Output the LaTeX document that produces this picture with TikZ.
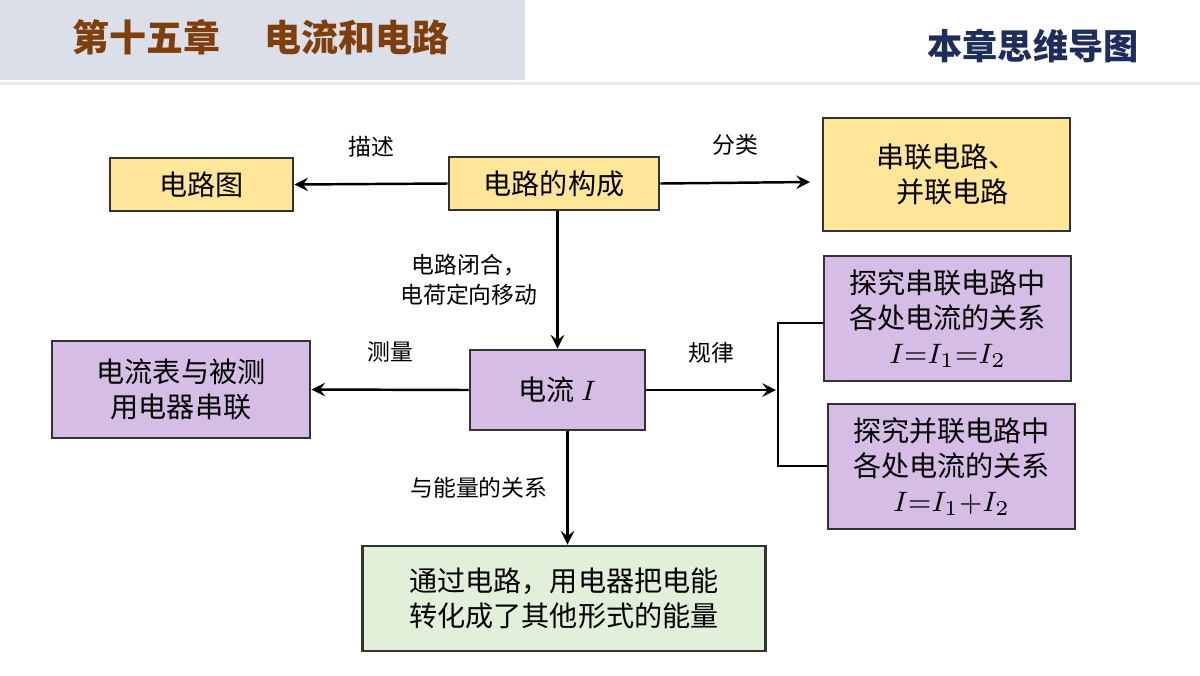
\documentclass[tikz,border=0pt]{standalone}
\usepackage{fontspec}
\newfontfamily\cjk{Noto Sans CJK SC}
\usetikzlibrary{positioning}
\definecolor{hdrbg}{HTML}{DADFEA}
\definecolor{hdrbrown}{HTML}{7F3F0C}
\definecolor{hdrblue}{HTML}{1F2D5A}
\definecolor{yel}{HTML}{FFE699}
\definecolor{pur}{HTML}{D5BDE6}
\definecolor{grn}{HTML}{E2F0D9}
\tikzset{
 box/.style={draw=black!80,line width=0.8pt,align=center,font=\cjk\fontsize{8}{10}\selectfont,inner sep=0pt},
 lab/.style={align=center,font=\cjk\fontsize{6.5}{8.5}\selectfont},
 arr/.style={->,>=stealth,line width=0.7pt}
}
\begin{document}
\begin{tikzpicture}[x=0.01cm,y=-0.01cm]
\useasboundingbox (0,0) rectangle (1200,675);
\fill[white] (0,0) rectangle (1200,675);
\fill[hdrbg] (0,0) rectangle (525,80);
\fill[black!8] (0,82) rectangle (1200,85);
\node[font=\cjk\bfseries\fontsize{10.5}{12}\selectfont,text=hdrbrown,anchor=west] (title) at (60,37) {第十五章\hspace{1.2em}电流和电路};
\node[font=\cjk\bfseries\fontsize{10}{12}\selectfont,text=hdrblue] (sub) at (1033,46) {本章思维导图};
% boxes
\node[box,fill=yel,minimum width=1.83cm,minimum height=0.53cm] (map) at (201.5,184.5) {电路图};
\node[box,fill=yel,minimum width=2.10cm,minimum height=0.53cm] (make) at (554,183.5) {电路的构成};
\node[box,fill=yel,minimum width=2.47cm,minimum height=1.13cm] (kind) at (946.5,174.5) {串联电路、\\\ \ 并联电路};
\node[box,fill=pur,minimum width=2.58cm,minimum height=0.97cm] (meas) at (181,389.5) {电流表与被测\\用电器串联};
\node[box,fill=pur,minimum width=1.75cm,minimum height=0.80cm] (cur) at (557.5,390) {电流 $I$};
\node[box,fill=pur,minimum width=2.47cm,minimum height=1.25cm] (ser) at (947.5,318.5) {探究串联电路中\\各处电流的关系\\$I{=}I_1{=}I_2$};
\node[box,fill=pur,minimum width=2.47cm,minimum height=1.25cm] (par) at (951.5,466.5) {探究并联电路中\\各处电流的关系\\$I{=}I_1{+}I_2$};
\node[box,fill=grn,minimum width=4.02cm,minimum height=1.05cm] (energy) at (564,598.5) {通过电路，用电器把电能\\转化成了其他形式的能量};
% connectors
\coordinate (kindin) at (810,182);
\coordinate (brk) at (776,390);
\coordinate (brt) at (778,323);
\coordinate (brb) at (778,466);
\draw[arr] (make.west) -- (map.east) node[lab,midway,above=4pt] {描述};
\draw[arr] (make.east) -- (kindin) node[lab,midway,above=4pt] {分类};
\draw[arr] (make.south -| cur.north) -- (cur.north) node[lab,midway,left=2pt] {电路闭合，\\电荷定向移动};
\draw[arr] (cur.west) -- (meas.east) node[lab,midway,above=4pt] {测量};
\draw[arr] (cur.east) -- (brk) node[lab,midway,above=4pt] {规律};
\draw[line width=0.8pt] (ser.west |- brt) -- (brt) -- (brb) -- (par.west |- brb);
\draw[arr] ([xshift=0.1cm]cur.south) -- ([xshift=0.1cm]cur.south |- energy.north) node[lab,midway,left=2pt] {与能量的关系};
\end{tikzpicture}
\end{document}
